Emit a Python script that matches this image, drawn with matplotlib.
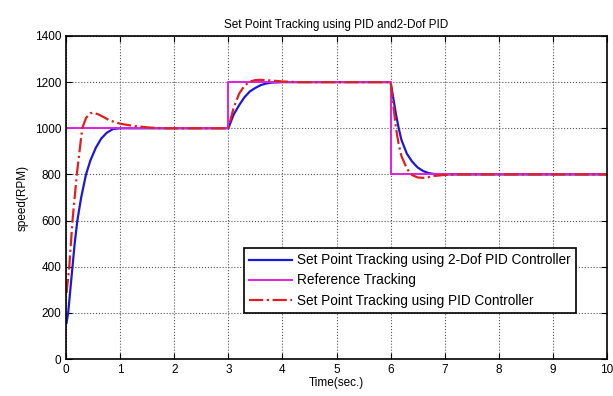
import matplotlib
matplotlib.use("Agg")
from matplotlib import pyplot as plt

plt.rcParams['font.family'] = ['Liberation Sans', 'DejaVu Sans']

# reference set point
t_ref = [0, 3, 3, 6, 6, 10]
ref = [1000, 1000, 1200, 1200, 800, 800]

# 2-Dof PID response
t_2dof = [0.01, 0.04, 0.08, 0.12, 0.16, 0.21, 0.28, 0.37, 0.45, 0.55, 0.65, 0.75, 0.87, 1.0, 1.2,
          3.0, 3.1, 3.2, 3.3, 3.4, 3.5, 3.6, 3.7, 3.8, 4.0,
          6.0, 6.05, 6.1, 6.15, 6.2, 6.3, 6.4, 6.5, 6.6, 6.7, 6.8, 7.0, 10]
y_2dof = [157, 200, 300, 400, 500, 600, 700, 800, 860, 915, 955, 980, 997, 1000, 1000,
          1000, 1060, 1100, 1135, 1160, 1175, 1187, 1194, 1198, 1200,
          1200, 1130, 1060, 1000, 950, 890, 855, 830, 815, 806, 802, 800, 800]

# PID response
t_pid = [0.01, 0.06, 0.12, 0.2, 0.25, 0.3, 0.37, 0.45, 0.5, 0.6, 0.7, 0.8, 0.9, 1.0, 1.2, 1.5, 1.8,
         3.0, 3.1, 3.2, 3.3, 3.4, 3.5, 3.6, 3.8, 4.0, 4.3,
         6.0, 6.05, 6.1, 6.15, 6.2, 6.3, 6.4, 6.5, 6.6, 6.7, 6.8, 7.0, 7.3, 10]
y_pid = [286, 400, 600, 800, 900, 1000, 1045, 1065, 1068, 1060, 1048, 1035, 1027, 1020, 1012, 1004, 1000,
         1000, 1090, 1150, 1185, 1202, 1209, 1210, 1207, 1203, 1200,
         1200, 1100, 1000, 930, 880, 825, 797, 787, 785, 788, 793, 798, 800, 800]

fig = plt.figure(figsize=(6.13, 3.96), dpi=100)
ax = fig.add_subplot(111)
fig.subplots_adjust(left=66/613, right=607/613, top=1-36/396, bottom=1-359/396)

ax.plot(t_2dof, y_2dof, color='#1a1ad6', lw=1.6, label='Set Point Tracking using 2-Dof PID Controller')
ax.plot(t_ref, ref, color='#e020e0', lw=1.4, label='Reference Tracking')
ax.plot(t_pid, y_pid, color='#e02020', lw=1.6, ls='-.', label='Set Point Tracking using PID Controller')

ax.set_xlim(0, 10)
ax.set_ylim(0, 1400)
ax.set_xticks(range(0, 11))
ax.set_yticks(range(0, 1401, 200))
ax.grid(True, color='#555555', ls=':', lw=0.8)
ax.tick_params(direction='in', top=True, right=True, labelsize=8.5, length=4)
for s in ax.spines.values():
    s.set_linewidth(1.2)

ax.set_title('Set Point Tracking using PID and2-Dof PID', fontsize=8.5)
ax.set_xlabel('Time(sec.)', fontsize=8.5, labelpad=1)
ax.set_ylabel('speed(RPM)', fontsize=8.5)

leg = ax.legend(loc='upper left', bbox_to_anchor=(0.329, 0.344), borderaxespad=0,
                fontsize=9.8, fancybox=False, framealpha=1, edgecolor='black',
                borderpad=0.4, labelspacing=0.45, handlelength=3.1, handletextpad=0.4)
leg.get_frame().set_linewidth(1.2)

plt.savefig('out.png', dpi=100)
